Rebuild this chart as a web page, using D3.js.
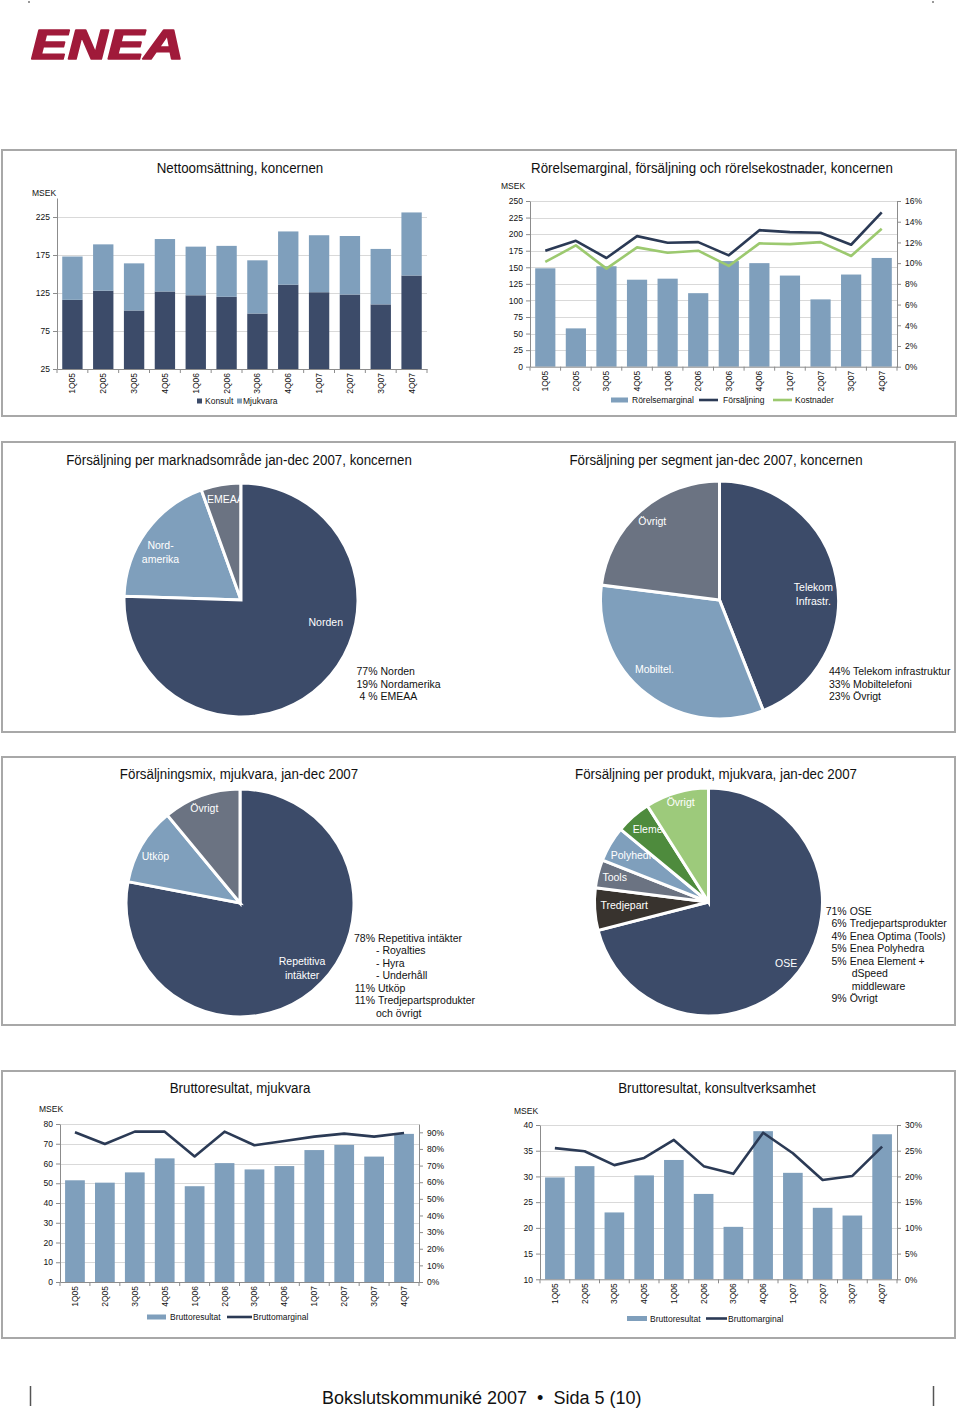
<!DOCTYPE html>
<html><head><meta charset="utf-8">
<script src="https://cdn.jsdelivr.net/npm/d3@7/dist/d3.min.js"></script>
<style>
body{margin:0;background:#fff;}
svg{display:block;font-family:"Liberation Sans",Arial,sans-serif;}
</style></head><body>
<svg id="c" width="960" height="1409"></svg>
<script>
// ---------------- DATA ----------------
const quarters = ["1Q05","2Q05","3Q05","4Q05","1Q06","2Q06","3Q06","4Q06","1Q07","2Q07","3Q07","4Q07"];

// Nettoomsättning, koncernen (MSEK)
const konsult  = [116,128,102,127,122,120,98,136,126,123,110,148];
const mjukvara = [57,61,62,69,64,67,70,70,75,77,73,83];
const revenueTicks = [25,75,125,175,225];

// Rörelsemarginal (%), Försäljning & Kostnader (MSEK)
const rorelsemarginal = [9.5,3.7,9.7,8.4,8.5,7.1,10.2,10.0,8.8,6.5,8.9,10.5];
const forsaljning = [175,190,164,197,187,188,168,206,203,202,184,233];
const kostnader   = [158,183,148,180,172,175,152,186,185,188,167,208];
const msekTicks   = [0,25,50,75,100,125,150,175,200,225,250];
const marginTicks = [0,2,4,6,8,10,12,14,16];

// Bruttoresultat, mjukvara
const bruttoMjukvara = [51.5,50.3,55.5,62.6,48.5,60.2,57.0,58.7,66.8,69.4,63.5,75.0];
const bruttomarginalMjukvara = [90.0,83.0,90.4,90.4,75.5,90.4,82.2,84.8,87.4,89.2,87.4,89.6];
const mjukLeftTicks  = [0,10,20,30,40,50,60,70,80];
const mjukRightTicks = [0,10,20,30,40,50,60,70,80,90];

// Bruttoresultat, konsultverksamhet
const bruttoKonsult = [29.8,32.0,23.0,30.2,33.2,26.6,20.2,38.8,30.7,23.9,22.4,38.2];
const bruttomarginalKonsult = [25.5,24.9,22.2,23.6,27.1,22.0,20.5,28.5,24.5,19.3,20.1,25.8];
const konsLeftTicks  = [10,15,20,25,30,35,40];
const konsRightTicks = [0,5,10,15,20,25,30];

// Pies
const marketLabels = ["Norden","Nord-\namerika","EMEAA"];
const marketValues = [75.5,19,5.5];
const marketLegend = [["77%","Norden"],["19%","Nordamerika"],["4 %","EMEAA"]];

const segmentLabels = ["Telekom\nInfrastr.","Mobiltel.","Övrigt"];
const segmentValues = [44,33,23];
const segmentLegend = [["44%","Telekom infrastruktur"],["33%","Mobiltelefoni"],["23%","Övrigt"]];

const mixLabels = ["Repetitiva\nintäkter","Utköp","Övrigt"];
const mixValues = [78,11,11];
const mixLegend = [["78%","Repetitiva intäkter"],["","- Royalties"],["","- Hyra"],["","- Underhåll"],["11%","Utköp"],["11%","Tredjepartsprodukter"],["","och övrigt"]];

const productLabels = ["OSE","Tredjepart","Tools","Polyhedra","Element","Övrigt"];
const productValues = [71,6,4,5,5,9];
const productLegend = [["71%","OSE"],["6%","Tredjepartsprodukter"],["4%","Enea Optima (Tools)"],["5%","Enea Polyhedra"],["5%","Enea Element +"],["","dSpeed"],["","middleware"],["9%","Övrigt"]];

// ---------------- STYLE ----------------
const NAVY = "#3c4b69", STEEL = "#7f9fbc", SLATE = "#6b7382";
const LINE_NAVY = "#2b3a55", LINE_GREEN = "#9cc96f";
const AXIS = "#8c8c8c", GRID = "#d9d9d9", TXT = "#111";

const svg = d3.select("#c");
const defs = svg.append("defs");

// logo
svg.append("text").attr("transform","translate(31,58.5) scale(1.31,1)")
  .attr("font-size",42).attr("font-weight","bold").attr("font-style","italic")
  .attr("fill","#a01a3a").attr("stroke","#a01a3a").attr("stroke-width",1.6).attr("stroke-linejoin","round")
  .text("ENEA");
svg.append("rect").attr("x",28).attr("y",1).attr("width",2).attr("height",2).attr("fill","#999");
svg.append("rect").attr("x",932).attr("y",1).attr("width",2).attr("height",2).attr("fill","#999");

// panels
[[2,150,954,266],[2,442,953,290],[2,757,953,268],[2,1071,953,267]].forEach(p=>{
  svg.append("rect").attr("x",p[0]).attr("y",p[1]).attr("width",p[2]).attr("height",p[3])
    .attr("fill","none").attr("stroke","#a8a8a8").attr("stroke-width",2);
});

function title(txt, cx, y){
  svg.append("text").attr("transform",`translate(${cx},${y}) scale(0.86,1)`)
    .attr("text-anchor","middle").attr("font-size",15.5).attr("fill","#111").text(txt);
}
function small(txt, x, y, anchor){
  return svg.append("text").attr("x",x).attr("y",y).attr("text-anchor",anchor||"start")
    .attr("font-size",8.5).attr("fill",TXT).text(txt);
}

function styleAxis(sel){
  sel.attr("font-family",null).attr("font-size",null);
  sel.select(".domain").attr("stroke",AXIS);
  sel.selectAll(".tick line").attr("stroke",AXIS);
  sel.selectAll(".tick text").attr("font-size",8.5).attr("fill",TXT);
}

function combo(c){
  const g = svg.append("g");
  const x = d3.scaleBand().domain(quarters).range([c.x0,c.x1]).paddingInner(0.34).paddingOuter(0.17);
  const yL = d3.scaleLinear().domain(c.lDomain).range([c.yb,c.yt]);
  const yR = c.rDomain ? d3.scaleLinear().domain(c.rDomain).range([c.yb,c.yt]) : null;
  const sc = a => a==="R" ? yR : yL;
  // grid
  g.append("g").selectAll("line").data(c.grid).join("line")
    .attr("x1",c.x0).attr("x2",c.x1)
    .attr("y1",d=>Math.round(yL(d))+0.5).attr("y2",d=>Math.round(yL(d))+0.5)
    .attr("stroke",GRID).attr("stroke-width",1);
  // bars
  c.bars.forEach(b=>{
    const s = sc(b.axis);
    g.append("g").selectAll("rect").data(b.values).join("rect")
      .attr("x",(d,i)=>x(quarters[i])).attr("width",x.bandwidth())
      .attr("y",(d,i)=>s(d + (b.base ? b.base[i] : 0)))
      .attr("height",(d,i)=>(b.base ? s(b.base[i]) : s(s.domain()[0])) - s(d + (b.base ? b.base[i] : 0)))
      .attr("fill",b.color);
  });
  // lines
  c.lines.forEach(l=>{
    const s = sc(l.axis);
    g.append("path").datum(l.values)
      .attr("d",d3.line().x((d,i)=>x(quarters[i])+x.bandwidth()/2).y(d=>s(d)))
      .attr("fill","none").attr("stroke",l.color).attr("stroke-width",2.6).attr("stroke-linejoin","round");
  });
  // axes
  const la = g.append("g").attr("transform",`translate(${c.x0},0)`)
    .call(d3.axisLeft(yL).tickValues(c.lTicks).tickSize(4).tickSizeOuter(0).tickPadding(3).tickFormat(d3.format("d")));
  styleAxis(la);
  if (yR){
    const ra = g.append("g").attr("transform",`translate(${c.x1},0)`)
      .call(d3.axisRight(yR).tickValues(c.rTicks).tickSize(4).tickSizeOuter(0).tickPadding(4).tickFormat(d=>d+"%"));
    styleAxis(ra);
  }
  const ba = g.append("g").attr("transform",`translate(0,${c.yb})`)
    .call(d3.axisBottom(x).tickSize(0).tickSizeOuter(0));
  styleAxis(ba);
  ba.selectAll(".tick text").attr("transform","rotate(-90)").attr("text-anchor","end")
    .attr("x",-4).attr("y",0).attr("dy","0.35em");
  // category boundary ticks
  g.append("g").selectAll("line").data(d3.range(quarters.length+1)).join("line")
    .attr("x1",i=>c.x0 + i*x.step()).attr("x2",i=>c.x0 + i*x.step())
    .attr("y1",c.yb).attr("y2",c.yb+4).attr("stroke",AXIS);
  small("MSEK", c.msek[0], c.msek[1]);
  title(c.title, c.titlePos[0], c.titlePos[1]);
  // legend
  c.legend.forEach(it=>{
    if (it.type==="sq") svg.append("rect").attr("x",it.x).attr("y",c.legY-2.5).attr("width",5).attr("height",5).attr("fill",it.color);
    else if (it.type==="rect") svg.append("rect").attr("x",it.x).attr("y",c.legY-2.5).attr("width",it.w).attr("height",5).attr("fill",it.color);
    else svg.append("line").attr("x1",it.x).attr("x2",it.x+it.w).attr("y1",c.legY).attr("y2",c.legY).attr("stroke",it.color).attr("stroke-width",2.6);
    small(it.label, it.tx, c.legY+3);
  });
}

combo({
  title:"Nettoomsättning, koncernen", titlePos:[240,173], msek:[32,196],
  x0:57, x1:427, yb:369, yt:198, lDomain:[25,250], lTicks:revenueTicks, grid:[75,125,175,225],
  bars:[{values:konsult,color:NAVY,axis:"L"},{values:mjukvara,base:konsult,color:STEEL,axis:"L"}],
  lines:[], legY:401,
  legend:[{type:"sq",x:197,color:NAVY,label:"Konsult",tx:205},{type:"sq",x:237,color:STEEL,label:"Mjukvara",tx:243}]
});

combo({
  title:"Rörelsemarginal, försäljning och rörelsekostnader, koncernen", titlePos:[712,173], msek:[501,189],
  x0:530, x1:897, yb:366.7, yt:201, lDomain:[0,250], lTicks:msekTicks, grid:msekTicks.slice(1),
  rDomain:[0,16], rTicks:marginTicks,
  bars:[{values:rorelsemarginal,color:STEEL,axis:"R"}],
  lines:[{values:forsaljning,color:LINE_NAVY,axis:"L"},{values:kostnader,color:LINE_GREEN,axis:"L"}],
  legY:400,
  legend:[{type:"rect",x:611,w:17,color:STEEL,label:"Rörelsemarginal",tx:632},
          {type:"line",x:699,w:19,color:LINE_NAVY,label:"Försäljning",tx:723},
          {type:"line",x:773,w:19,color:LINE_GREEN,label:"Kostnader",tx:795}]
});

combo({
  title:"Bruttoresultat, mjukvara", titlePos:[240,1093], msek:[39,1112],
  x0:60, x1:419, yb:1282, yt:1124, lDomain:[0,80], lTicks:mjukLeftTicks, grid:mjukLeftTicks.slice(1),
  rDomain:[0,95], rTicks:mjukRightTicks,
  bars:[{values:bruttoMjukvara,color:STEEL,axis:"L"}],
  lines:[{values:bruttomarginalMjukvara,color:LINE_NAVY,axis:"R"}],
  legY:1317,
  legend:[{type:"rect",x:147,w:19,color:STEEL,label:"Bruttoresultat",tx:170},
          {type:"line",x:227,w:25,color:LINE_NAVY,label:"Bruttomarginal",tx:253}]
});

combo({
  title:"Bruttoresultat, konsultverksamhet", titlePos:[717,1093], msek:[514,1114],
  x0:540, x1:897, yb:1279.3, yt:1125, lDomain:[10,40], lTicks:konsLeftTicks, grid:konsLeftTicks.slice(1),
  rDomain:[0,30], rTicks:konsRightTicks,
  bars:[{values:bruttoKonsult,color:STEEL,axis:"L"}],
  lines:[{values:bruttomarginalKonsult,color:LINE_NAVY,axis:"R"}],
  legY:1318.5,
  legend:[{type:"rect",x:627,w:20,color:STEEL,label:"Bruttoresultat",tx:650},
          {type:"line",x:706,w:21,color:LINE_NAVY,label:"Bruttomarginal",tx:728}]
});

// ---------------- PIES ----------------
function pie(c){
  const arcs = d3.pie().sort(null).value(d=>d)(c.values);
  const arc = d3.arc().innerRadius(0).outerRadius(c.r);
  const g = svg.append("g").attr("transform",`translate(${c.cx},${c.cy})`);
  const order = c.order || d3.range(arcs.length);
  order.forEach(i=>{
    const a = arcs[i];
    g.append("path").attr("d",arc(a)).attr("fill",c.colors[i]).attr("stroke","#fff").attr("stroke-width",3);
    const [ang,rf] = c.labelPos[i];
    const rad = ang*Math.PI/180;
    const lx = Math.sin(rad)*rf*c.r, ly = -Math.cos(rad)*rf*c.r;
    const lines = c.labels[i].split("\n");
    const t = g.append("text").attr("text-anchor","middle").attr("font-size",10.5).attr("fill","#fff");
    lines.forEach((ln,k)=>{
      t.append("tspan").attr("x",lx).attr("y",ly + (k-(lines.length-1)/2)*14).attr("dy","0.35em").text(ln);
    });
  });
  c.legend.forEach((l,k)=>{
    const y = c.legY + k*c.legStep;
    svg.append("text").attr("x",c.pctX).attr("y",y).attr("text-anchor","end").attr("font-size",10.5).attr("fill",TXT).text(l[0]);
    svg.append("text").attr("x",c.pctX + (l[0] ? 3 : c.contOff)).attr("y",y).attr("font-size",10.5).attr("fill",TXT)
      .attr("clip-path","url(#pageclip)").text(l[1]);
  });
  title(c.title, c.titlePos[0], c.titlePos[1]);
}

defs.append("clipPath").attr("id","pageclip").append("rect").attr("x",0).attr("y",0).attr("width",954).attr("height",1409);

pie({cx:241, cy:600, r:117, values:marketValues, labels:marketLabels, order:[1,2,0],
  colors:[NAVY,STEEL,SLATE], labelPos:[[105,0.75],[300.7,0.8],[351.2,0.874]],
  legend:marketLegend, pctX:377.5, legY:675, legStep:12.6, contOff:3,
  title:"Försäljning per marknadsområde jan-dec 2007, koncernen", titlePos:[239,465]});

pie({cx:719.5, cy:600, r:119, values:segmentValues, labels:segmentLabels,
  colors:[NAVY,STEEL,SLATE], labelPos:[[86.8,0.79],[223.1,0.8],[319.5,0.87]],
  legend:segmentLegend, pctX:850, legY:675, legStep:12.6, contOff:3,
  title:"Försäljning per segment jan-dec 2007, koncernen", titlePos:[716,465]});

pie({cx:240, cy:903, r:114, values:mixValues, labels:mixLabels,
  colors:[NAVY,STEEL,SLATE], labelPos:[[136.4,0.79],[299.1,0.85],[339.4,0.89]],
  legend:mixLegend, pctX:375, legY:941.5, legStep:12.5, contOff:1,
  title:"Försäljningsmix, mjukvara, jan-dec 2007", titlePos:[239,779]});

pie({cx:708.5, cy:902, r:114, values:productValues, labels:productLabels,
  colors:[NAVY,"#38332e",SLATE,STEEL,"#4e8b3d","#9dca7b"],
  labelPos:[[128.5,0.87],[267.5,0.74],[284.5,0.85],[302.4,0.77],[322.3,0.81],[344.4,0.908]],
  legend:productLegend, pctX:846.7, legY:914.5, legStep:12.5, contOff:5,
  title:"Försäljning per produkt, mjukvara, jan-dec 2007", titlePos:[716,779]});

// footer
svg.append("text").attr("x",322).attr("y",1404).attr("font-size",18).attr("fill","#111")
  .style("white-space","pre").text("Bokslutskommuniké 2007  •  Sida 5 (10)");
svg.append("line").attr("x1",30.5).attr("x2",30.5).attr("y1",1386).attr("y2",1406).attr("stroke","#555").attr("stroke-width",1.5);
svg.append("line").attr("x1",933.5).attr("x2",933.5).attr("y1",1386).attr("y2",1406).attr("stroke","#555").attr("stroke-width",1.5);
</script>
</body></html>
